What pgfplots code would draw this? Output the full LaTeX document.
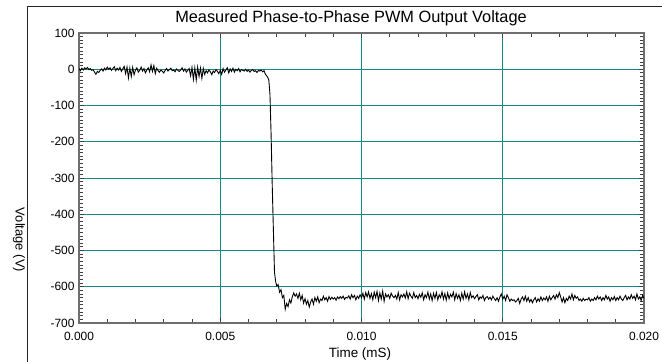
\documentclass[border=0pt]{standalone}
\usepackage{fontspec}
\setmainfont{Liberation Sans}
\usepackage{pgfplots}
\pgfplotsset{compat=1.18}
\definecolor{gridteal}{HTML}{138A8A}
\definecolor{axgray}{HTML}{6E6E6E}
\begin{document}
\begin{tikzpicture}
\useasboundingbox (0bp,0bp) rectangle (662bp,362bp);
\draw[black!85, line width=1bp] (27bp,0bp) -- (27bp,355bp) -- (662bp,355bp);
\begin{axis}[at={(79bp,39bp)}, anchor=south west, scale only axis,
 width=565bp, height=290bp,
 xmin=0, xmax=0.02, ymin=-700, ymax=100,
 xtick={0,0.005,0.01,0.015,0.02}, minor x tick num=4,
 ytick={-700,-600,...,100}, minor y tick num=9,
 scaled x ticks=false,
 xticklabel style={yshift=-6bp, /pgf/number format/.cd, fixed, fixed zerofill, precision=3},
 yticklabel style={xshift=-1bp},
 ticklabel style={font=\fontsize{12}{14}\selectfont, /pgf/number format/assume math mode=true},
 xmajorgrids, ymajorgrids, grid style={gridteal, line width=1bp},
 axis line style={axgray, line width=1.4bp},
 every tick/.append style={black!75, line width=0.8pt},
 tick align=inside, major tick length=5pt, minor tick length=4pt,
]
\addplot[black, line width=0.9bp, mark=none] coordinates {
(0.00000,2) (0.00005,-4) (0.00010,3) (0.00015,-2) (0.00020,4) (0.00025,1) (0.00030,5) (0.00035,-1) (0.00040,2) (0.00045,-3)
(0.00050,-1) (0.00055,-8) (0.00060,-14) (0.00065,-6) (0.00070,-9) (0.00075,-3) (0.00080,1) (0.00085,-5) (0.00090,3) (0.00095,-2)
(0.00100,6) (0.00105,0) (0.00110,4) (0.00115,-3) (0.00120,2) (0.00125,7) (0.00130,-4) (0.00135,3) (0.00140,-2) (0.00145,5)
(0.00150,-6) (0.00155,1) (0.00160,8) (0.00165,-12) (0.00170,6) (0.00175,-24) (0.00180,3) (0.00185,-20) (0.00190,5) (0.00195,-15)
(0.00200,-2) (0.00205,4) (0.00210,-8) (0.00215,-3) (0.00220,6) (0.00225,-5) (0.00230,2) (0.00235,-10) (0.00240,-2) (0.00245,4)
(0.00250,-7) (0.00255,12) (0.00260,-6) (0.00265,10) (0.00270,-12) (0.00275,3) (0.00280,-4) (0.00285,-8) (0.00290,-2) (0.00295,-6)
(0.00300,-10) (0.00305,-3) (0.00310,2) (0.00315,-5) (0.00320,-1) (0.00325,3) (0.00330,-4) (0.00335,-2) (0.00340,-7) (0.00345,1)
(0.00350,-3) (0.00355,-6) (0.00360,-2) (0.00365,4) (0.00370,-5) (0.00375,1) (0.00380,-8) (0.00385,-3) (0.00390,2) (0.00395,-18)
(0.00400,5) (0.00405,-28) (0.00410,4) (0.00415,-30) (0.00420,6) (0.00425,-20) (0.00430,3) (0.00435,-25) (0.00440,2) (0.00445,-14)
(0.00450,-4) (0.00455,-10) (0.00460,-2) (0.00465,-7) (0.00470,-15) (0.00475,-5) (0.00480,-9) (0.00485,-1) (0.00490,-6) (0.00495,-12)
(0.00500,-3) (0.00505,-14) (0.00510,2) (0.00515,-8) (0.00520,-2) (0.00525,4) (0.00530,-10) (0.00535,1) (0.00540,-6) (0.00545,3)
(0.00550,-8) (0.00555,0) (0.00560,-4) (0.00565,2) (0.00570,-7) (0.00575,-1) (0.00580,-3) (0.00585,-5) (0.00590,0) (0.00595,-6)
(0.00600,-2) (0.00605,-8) (0.00610,-3) (0.00615,-1) (0.00620,-6) (0.00625,-4) (0.00630,-9) (0.00635,-3) (0.00640,-5) (0.00645,-2)
(0.00650,-7) (0.00655,-4) (0.00660,-14) (0.00664,-18) (0.00668,-22) (0.00672,-30) (0.00676,-70) (0.00680,-180) (0.00684,-320) (0.00688,-440)
(0.00692,-560) (0.00696,-585) (0.00700,-598) (0.00705,-594) (0.00710,-615) (0.00715,-608) (0.00720,-630) (0.00725,-624) (0.00730,-662) (0.00735,-646)
(0.00740,-655) (0.00745,-636) (0.00750,-645) (0.00755,-628) (0.00760,-617) (0.00765,-626) (0.00770,-620) (0.00775,-632) (0.00780,-618) (0.00785,-636)
(0.00790,-624) (0.00795,-645) (0.00800,-633) (0.00805,-648) (0.00810,-638) (0.00815,-656) (0.00820,-642) (0.00825,-634) (0.00830,-648) (0.00835,-630)
(0.00840,-640) (0.00845,-628) (0.00850,-644) (0.00855,-634) (0.00860,-638) (0.00865,-626) (0.00870,-636) (0.00875,-630) (0.00880,-640) (0.00885,-627)
(0.00890,-635) (0.00895,-629) (0.00900,-634) (0.00905,-630) (0.00910,-637) (0.00915,-628) (0.00920,-633) (0.00925,-627) (0.00930,-632) (0.00935,-626)
(0.00940,-635) (0.00945,-629) (0.00950,-631) (0.00955,-625) (0.00960,-634) (0.00965,-622) (0.00970,-630) (0.00975,-624) (0.00980,-636) (0.00985,-626)
(0.00990,-632) (0.00995,-622) (0.01000,-630) (0.01005,-618) (0.01010,-634) (0.01015,-616) (0.01020,-628) (0.01025,-614) (0.01030,-632) (0.01035,-619)
(0.01040,-636) (0.01045,-615) (0.01050,-630) (0.01055,-613) (0.01060,-638) (0.01065,-617) (0.01070,-634) (0.01075,-612) (0.01080,-640) (0.01085,-620)
(0.01090,-628) (0.01095,-622) (0.01100,-632) (0.01105,-618) (0.01110,-626) (0.01115,-630) (0.01120,-624) (0.01125,-634) (0.01130,-616) (0.01135,-636)
(0.01140,-622) (0.01145,-628) (0.01150,-620) (0.01155,-631) (0.01160,-614) (0.01165,-633) (0.01170,-618) (0.01175,-626) (0.01180,-632) (0.01185,-616)
(0.01190,-630) (0.01195,-624) (0.01200,-633) (0.01205,-621) (0.01210,-629) (0.01215,-617) (0.01220,-636) (0.01225,-622) (0.01230,-630) (0.01235,-615)
(0.01240,-634) (0.01245,-620) (0.01250,-638) (0.01255,-618) (0.01260,-632) (0.01265,-616) (0.01270,-636) (0.01275,-622) (0.01280,-630) (0.01285,-614)
(0.01290,-634) (0.01295,-619) (0.01300,-637) (0.01305,-617) (0.01310,-633) (0.01315,-621) (0.01320,-628) (0.01325,-615) (0.01330,-636) (0.01335,-619)
(0.01340,-632) (0.01345,-622) (0.01350,-638) (0.01355,-618) (0.01360,-634) (0.01365,-614) (0.01370,-632) (0.01375,-620) (0.01380,-636) (0.01385,-616)
(0.01390,-630) (0.01395,-625) (0.01400,-633) (0.01405,-627) (0.01410,-622) (0.01415,-636) (0.01420,-628) (0.01425,-632) (0.01430,-624) (0.01435,-638)
(0.01440,-630) (0.01445,-627) (0.01450,-634) (0.01455,-629) (0.01460,-636) (0.01465,-626) (0.01470,-633) (0.01475,-638) (0.01480,-630) (0.01485,-640)
(0.01490,-628) (0.01495,-620) (0.01500,-634) (0.01505,-626) (0.01510,-638) (0.01515,-622) (0.01520,-630) (0.01525,-640) (0.01530,-634) (0.01535,-638)
(0.01540,-636) (0.01545,-642) (0.01550,-638) (0.01555,-632) (0.01560,-646) (0.01565,-634) (0.01570,-628) (0.01575,-638) (0.01580,-626) (0.01585,-640)
(0.01590,-630) (0.01595,-642) (0.01600,-635) (0.01605,-644) (0.01610,-636) (0.01615,-630) (0.01620,-642) (0.01625,-633) (0.01630,-640) (0.01635,-628)
(0.01640,-638) (0.01645,-631) (0.01650,-636) (0.01655,-628) (0.01660,-640) (0.01665,-626) (0.01670,-636) (0.01675,-630) (0.01680,-624) (0.01685,-634)
(0.01690,-622) (0.01695,-630) (0.01700,-616) (0.01705,-628) (0.01710,-642) (0.01715,-630) (0.01720,-644) (0.01725,-632) (0.01730,-638) (0.01735,-626)
(0.01740,-634) (0.01745,-620) (0.01750,-636) (0.01755,-624) (0.01760,-632) (0.01765,-628) (0.01770,-638) (0.01775,-634) (0.01780,-640) (0.01785,-632)
(0.01790,-638) (0.01795,-634) (0.01800,-636) (0.01805,-630) (0.01810,-640) (0.01815,-634) (0.01820,-638) (0.01825,-630) (0.01830,-636) (0.01835,-626)
(0.01840,-634) (0.01845,-628) (0.01850,-638) (0.01855,-630) (0.01860,-636) (0.01865,-624) (0.01870,-634) (0.01875,-628) (0.01880,-640) (0.01885,-630)
(0.01890,-636) (0.01895,-627) (0.01900,-638) (0.01905,-630) (0.01910,-636) (0.01915,-626) (0.01920,-634) (0.01925,-638) (0.01930,-630) (0.01935,-624)
(0.01940,-636) (0.01945,-628) (0.01950,-634) (0.01955,-622) (0.01960,-632) (0.01965,-626) (0.01970,-636) (0.01975,-620) (0.01980,-634) (0.01985,-628)
(0.01990,-638) (0.01995,-624) (0.02000,-632)
};
\end{axis}
\node[anchor=base, font=\fontsize{16.4}{19}\selectfont] at (351bp,339bp) {Measured Phase-to-Phase PWM Output Voltage};
\node[anchor=base, font=\fontsize{13.5}{16}\selectfont] at (360bp,5bp) {Time (mS)};
\node[rotate=-90, font=\fontsize{13}{15}\selectfont] at (19bp,122bp) {Voltage (V)};
\end{tikzpicture}
\end{document}
